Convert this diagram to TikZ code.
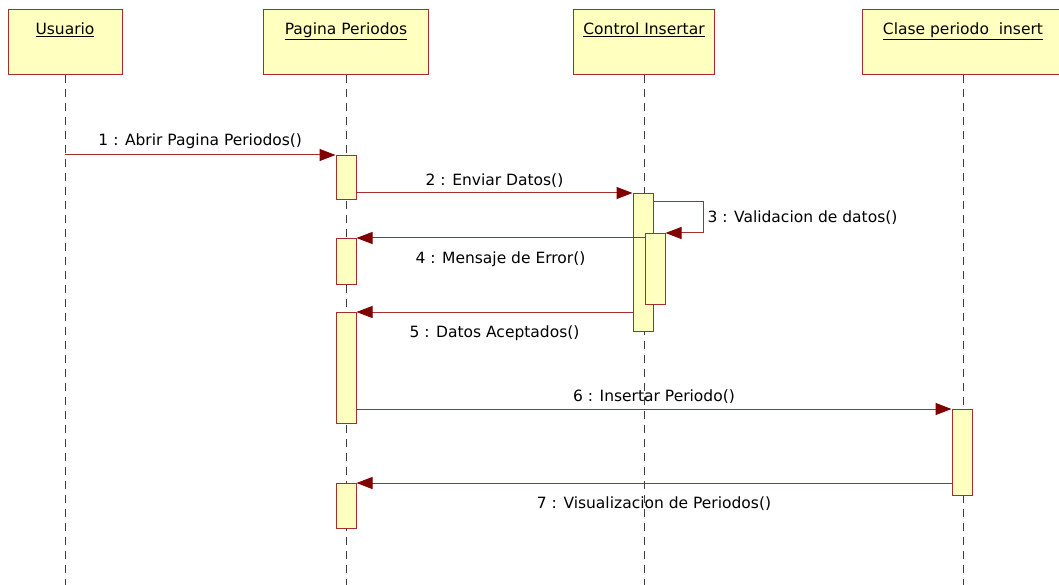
\documentclass[tikz,border=0pt]{standalone}
\usepackage{fontspec}
\setmainfont{DejaVu Sans}
\usetikzlibrary{positioning, arrows.meta}
\definecolor{linered}{RGB}{165,45,45}
\definecolor{tipred}{RGB}{128,0,0}
\definecolor{boxyellow}{RGB}{255,255,192}
\definecolor{lifegray}{RGB}{60,60,60}

\begin{document}
\begin{tikzpicture}[x=1pt, y=-1pt, font=\fontsize{15.5}{18}\selectfont]
% --- Global Styles ---
\tikzstyle{obj} = [draw=linered, fill=boxyellow, line width=1pt, minimum height=65pt, inner sep=0pt]
\tikzstyle{act} = [draw=linered, fill=boxyellow, line width=1pt, minimum width=20pt, inner sep=0pt, anchor=north]
\tikzstyle{lifeline} = [draw=lifegray, line width=1pt, dash pattern=on 8pt off 6pt]
\tikzstyle{msg} = [draw=linered, line width=1pt, -{Triangle[length=16pt, width=12pt, color=tipred]}]

% --- Page frame ---
\useasboundingbox (0,0) rectangle (1059,585);

% --- Lifeline X-coordinates ---
\def\xu{65}     % Usuario
\def\xp{346}    % Pagina Periodos
\def\xc{644}    % Control Insertar
\def\xk{963}    % Clase periodo insert
\def\ybot{585}  % bottom of the lifelines

% ==========================================
% OBJECT BOXES AND LIFELINES
% ==========================================
\draw[lifeline] (\xu,75) -- (\xu,\ybot);
\draw[lifeline] (\xp,75) -- (\xp,\ybot);
\draw[lifeline] (\xc,75) -- (\xc,\ybot);
\draw[lifeline] (\xk,75) -- (\xk,\ybot);

\node[obj, minimum width=114pt] (usu) at (\xu,42.5) {};
\node[obj, minimum width=165pt] (pag) at (\xp,42.5) {};
\node[obj, minimum width=141pt] (ctl) at (\xc,42.5) {};
\node[obj, minimum width=202pt] (cls) at (\xk,42.5) {};

\node[below=10pt of usu.north] (usut) {\underline{Usuario}};
\node[below=10pt of pag.north] (pagt) {\underline{Pagina Periodos}};
\node[below=10pt of ctl.north] (ctlt) {\underline{Control Insertar}};
\node[below=10pt of cls.north] (clst) {\underline{Clase periodo\ \ insert}};

% ==========================================
% ACTIVATION BARS
% ==========================================
\node[act, minimum height=44pt] (pag1) at (\xp,155) {};
\node[act, minimum height=138pt] (ctl1) at (\xc-1,193) {};
\node[act, minimum height=71pt] (ctl2) at (\xc+11,233) {};
\node[act, minimum height=46pt] (pag2) at (\xp,238) {};
\node[act, minimum height=111pt] (pag3) at (\xp,312) {};
\node[act, minimum height=86pt] (cls1) at (\xk-1,409) {};
\node[act, minimum height=45pt] (pag4) at (\xp,483) {};

\coordinate (usu1) at (\xu,155);
\coordinate (loop1) at (703,202);
\coordinate (loop2) at (703,233);

% ==========================================
% MESSAGES
% ==========================================
\draw[msg] (usu1) -- (pag1.north west) node[midway, above=2pt] (m1) {1 : Abrir Pagina Periodos()};
\draw[msg] (pag1.east |- ctl1.north) -- (ctl1.north west) node[midway, above=2pt] (m2) {2 : Enviar Datos()};
\draw[msg] (ctl1.east |- loop1) -- (loop1) -- (loop2) -- (ctl2.north east);
\node[right=1pt of loop1, yshift=-16pt] (m3) {3 : Validacion de datos()};
\draw[msg] (ctl2.west |- pag2.north) -- (pag2.north east) node[midway, below=10pt] (m4) {4 : Mensaje de Error()};
\draw[msg] (ctl1.west |- pag3.north) -- (pag3.north east) node[midway, below=10pt] (m5) {5 : Datos Aceptados()};
\draw[msg] (pag3.east |- cls1.north) -- (cls1.north west) node[midway, above=2pt] (m6) {6 : Insertar Periodo()};
\draw[msg] (cls1.west |- pag4.north) -- (pag4.north east) node[midway, below=10pt] (m7) {7 : Visualizacion de Periodos()};

\end{tikzpicture}
\end{document}
